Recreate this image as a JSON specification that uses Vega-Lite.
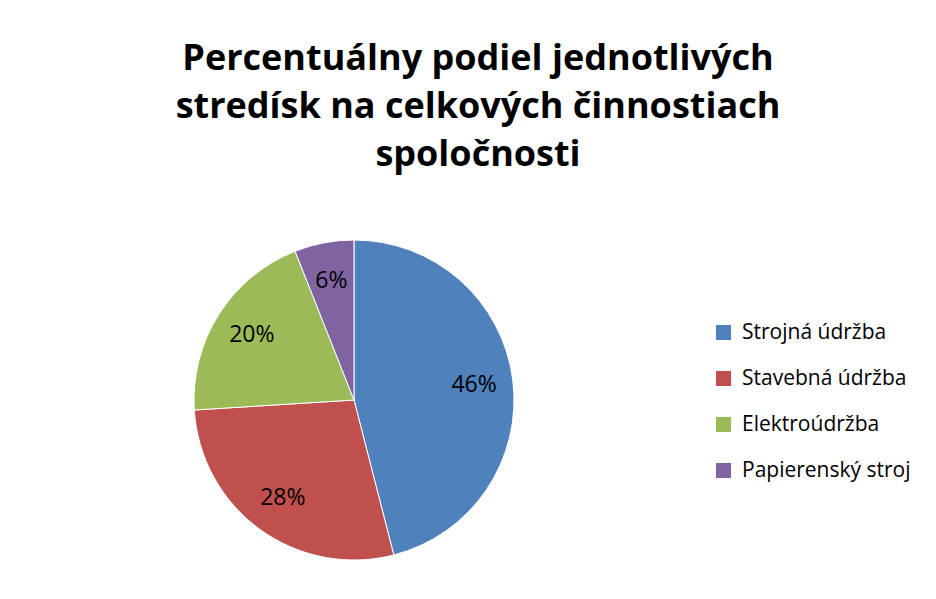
{
  "$schema": "https://vega.github.io/schema/vega-lite/v6.json",
  "autosize": {"type": "none"},
  "width": 320,
  "height": 320,
  "padding": {"left": 194, "top": 240, "right": 422, "bottom": 39},
  "background": "white",
  "title": {
    "text": ["Percentuálny podiel jednotlivých", "stredísk na celkových činnostiach", "spoločnosti"],
    "anchor": "middle",
    "frame": "group",
    "dx": 124,
    "offset": 64,
    "font": "Open Sans",
    "fontSize": 36,
    "fontWeight": "bold",
    "lineHeight": 48,
    "color": "#000000"
  },
  "data": {
    "values": [
      {"stredisko": "Strojná údržba", "podiel": 46, "i": 1, "label": "46%"},
      {"stredisko": "Stavebná údržba", "podiel": 28, "i": 2, "label": "28%"},
      {"stredisko": "Elektroúdržba", "podiel": 20, "i": 3, "label": "20%"},
      {"stredisko": "Papierenský stroj", "podiel": 6, "i": 4, "label": "6%"}
    ]
  },
  "encoding": {
    "theta": {"field": "podiel", "type": "quantitative", "stack": true},
    "order": {"field": "i", "type": "quantitative"},
    "color": {
      "field": "stredisko",
      "type": "nominal",
      "sort": ["Strojná údržba", "Stavebná údržba", "Elektroúdržba", "Papierenský stroj"],
      "scale": {
        "domain": ["Strojná údržba", "Stavebná údržba", "Elektroúdržba", "Papierenský stroj"],
        "range": ["#4F81BD", "#C0504D", "#9BBB59", "#8064A2"]
      },
      "legend": {
        "title": null,
        "orient": "none",
        "legendX": 519,
        "legendY": 82,
        "symbolType": "square",
        "symbolSize": 225,
        "symbolStrokeWidth": 0,
        "labelFont": "Open Sans",
        "labelFontSize": 21,
        "labelColor": "#000000",
        "labelOffset": 8,
        "labelLimit": 400,
        "rowPadding": 24
      }
    }
  },
  "layer": [
    {"mark": {"type": "arc", "outerRadius": 160, "stroke": "#ffffff", "strokeWidth": 1}},
    {
      "mark": {"type": "text", "radius": 121, "font": "Open Sans", "fontSize": 23, "color": "#000000"},
      "encoding": {"text": {"field": "label"}, "color": {"value": "#000000"}}
    }
  ],
  "config": {"view": {"stroke": null}}
}
